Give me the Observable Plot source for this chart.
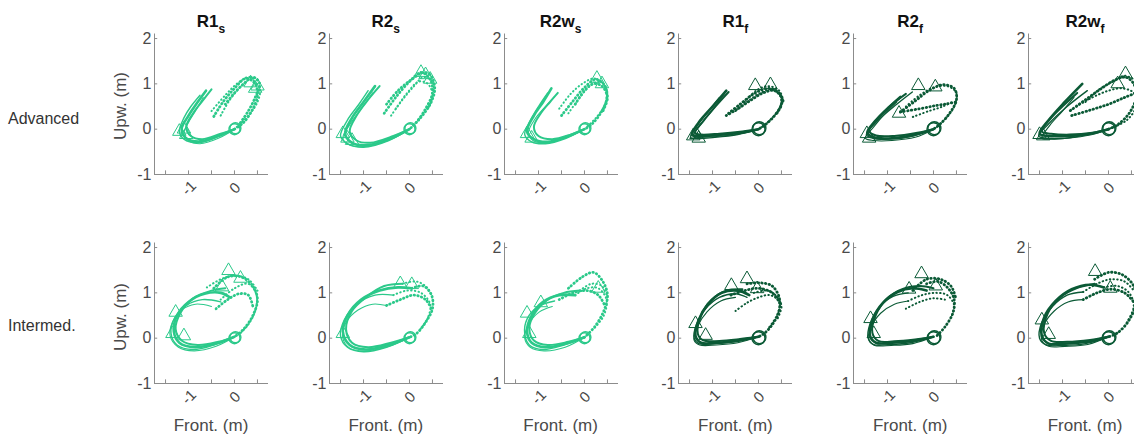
<!DOCTYPE html>
<html><head><meta charset="utf-8">
<script src="https://cdn.jsdelivr.net/npm/d3@7"></script>
<script src="https://cdn.jsdelivr.net/npm/@observablehq/plot@0.6"></script>
<style>
html,body{margin:0;padding:0;background:#fff;overflow:hidden;}
#root{position:relative;width:1134px;height:439px;overflow:hidden;font-family:"Liberation Sans",Arial,sans-serif;}
.pan{position:absolute;}
#ann{position:absolute;left:0;top:0;}
</style></head><body><div id="root"></div>
<script>
// ---------- data ----------
const columnTitles = ["R1","R2","R2w","R1","R2","R2w"];
const columnSubs = ["s","s","s","f","f","f"];
const rowLabels = ["Advanced","Intermed."];
const xTicks = [-1.5,-1,-0.5,0,0.5];
const xLabelTicks = [-1,0];
const xTickLabels = ["-1","0"];
const yTicks = [-1,0,1,2];
const yTickLabels = ["-1","0","1","2"];

// Advanced
const advR1sSolid = [
 [[0,0],[-0.35,-0.15],[-0.75,-0.27],[-1.05,-0.2],[-1.15,0.0],[-1.0,0.3],[-0.8,0.6],[-0.62,0.85]],
 [[0,0],[-0.4,-0.18],[-0.8,-0.3],[-1.1,-0.22],[-1.2,-0.05],[-1.1,0.25],[-0.95,0.5],[-0.75,0.75]],
 [[0,0],[-0.3,-0.1],[-0.7,-0.22],[-0.95,-0.15],[-1.05,0.05],[-0.9,0.35],[-0.7,0.62],[-0.5,0.88]],
 [[0,0],[-0.35,-0.2],[-0.75,-0.32],[-1.0,-0.25],[-1.1,-0.1],[-1.0,0.15],[-0.85,0.4],[-0.68,0.7]]];
const advR1sDotted = [
 [[-0.45,0.28],[-0.25,0.6],[0.0,0.9],[0.25,1.12],[0.45,1.0],[0.5,0.75],[0.4,0.45],[0.2,0.15],[0,0]],
 [[-0.3,0.3],[-0.1,0.65],[0.15,0.95],[0.35,1.1],[0.55,0.9],[0.5,0.6],[0.3,0.3],[0.05,0.05]],
 [[-0.2,0.55],[0.0,0.8],[0.2,1.0],[0.4,1.15],[0.55,1.0],[0.45,0.7],[0.3,0.4],[0.1,0.1]],
 [[-0.5,0.4],[-0.2,0.75],[0.05,1.0],[0.3,1.15],[0.45,1.1]]];
const advR1sTri = [[-1.2,-0.05],[-1.05,-0.12],[-1.1,0.0],[0.45,0.9],[0.5,0.95],[0.35,1.02]];

const advR2sSolid = [
 [[0,0],[-0.4,-0.2],[-0.9,-0.35],[-1.25,-0.3],[-1.4,-0.1],[-1.25,0.25],[-1.0,0.6],[-0.75,0.95]],
 [[0,0],[-0.45,-0.25],[-1.0,-0.4],[-1.35,-0.32],[-1.5,-0.15],[-1.35,0.2],[-1.1,0.55],[-0.9,0.85]],
 [[0,0],[-0.35,-0.15],[-0.85,-0.3],[-1.15,-0.25],[-1.3,-0.05],[-1.15,0.3],[-0.9,0.65],[-0.65,0.95]],
 [[0,0],[-0.4,-0.22],[-0.95,-0.38],[-1.3,-0.35],[-1.45,-0.2],[-1.3,0.1],[-1.05,0.45],[-0.8,0.8]]];
const advR2sDotted = [
 [[-0.55,0.35],[-0.3,0.7],[0.0,1.05],[0.25,1.25],[0.45,1.1],[0.5,0.8],[0.35,0.45],[0.15,0.15],[0,0]],
 [[-0.4,0.3],[-0.15,0.65],[0.1,0.95],[0.3,1.15],[0.5,1.05],[0.5,0.7],[0.3,0.35],[0.05,0.05]],
 [[-0.5,0.55],[-0.25,0.85],[0.05,1.1],[0.3,1.25],[0.45,1.2],[0.55,0.9],[0.45,0.55],[0.2,0.2]],
 [[-0.3,0.45],[-0.05,0.8],[0.2,1.05],[0.4,1.0],[0.5,0.75],[0.4,0.45]]];
const advR2sTri = [[-1.35,-0.2],[-1.25,-0.25],[-1.45,-0.1],[0.35,1.2],[0.45,1.1],[0.25,1.25]];

const advR2wsSolid = [
 [[0,0],[-0.35,-0.15],[-0.8,-0.28],[-1.1,-0.22],[-1.25,-0.05],[-1.1,0.3],[-0.9,0.6],[-0.72,0.9]],
 [[0,0],[-0.4,-0.2],[-0.85,-0.32],[-1.15,-0.28],[-1.3,-0.12],[-1.2,0.15],[-1.0,0.5],[-0.8,0.8]],
 [[0,0],[-0.3,-0.12],[-0.7,-0.22],[-1.0,-0.15],[-1.1,0.05],[-0.95,0.35],[-0.75,0.6],[-0.58,0.8]],
 [[0,0],[-0.38,-0.18],[-0.82,-0.3],[-1.12,-0.25],[-1.22,-0.08],[-1.08,0.22],[-0.85,0.5],[-0.65,0.72]]];
const advR2wsDotted = [
 [[-0.5,0.3],[-0.25,0.62],[0.0,0.92],[0.25,1.1],[0.45,0.95],[0.48,0.65],[0.35,0.35],[0.15,0.1],[0,0]],
 [[-0.35,0.35],[-0.1,0.7],[0.15,0.98],[0.35,1.05],[0.5,0.8],[0.42,0.5],[0.25,0.25],[0.05,0.05]],
 [[-0.2,0.55],[0.0,0.85],[0.2,1.0],[0.38,0.95],[0.5,0.7],[0.4,0.4]],
 [[-0.55,0.45],[-0.3,0.78],[-0.05,1.0],[0.2,1.12],[0.35,1.05]]];
const advR2wsTri = [[-1.25,-0.1],[-1.15,-0.2],[0.27,1.12],[0.38,1.0]];

const advR1fSolid = [
 [[0,0],[-0.4,-0.08],[-0.9,-0.13],[-1.3,-0.15],[-1.45,-0.12],[-1.3,0.15],[-1.0,0.5],[-0.7,0.85]],
 [[0,0],[-0.45,-0.12],[-0.95,-0.18],[-1.35,-0.2],[-1.42,-0.15],[-1.25,0.12],[-0.98,0.45],[-0.75,0.78]],
 [[0,0],[-0.35,-0.05],[-0.85,-0.1],[-1.25,-0.12],[-1.38,-0.08],[-1.2,0.18],[-0.92,0.52],[-0.65,0.82]],
 [[0,0],[-0.4,-0.1],[-0.9,-0.16],[-1.28,-0.18],[-1.48,-0.18],[-1.35,0.05],[-1.1,0.38],[-0.85,0.7]]];
const advR1fDotted = [
 [[-0.65,0.35],[-0.4,0.55],[-0.1,0.78],[0.2,0.9],[0.45,0.8],[0.5,0.55],[0.35,0.3],[0.15,0.1],[0,0]],
 [[-0.5,0.4],[-0.25,0.6],[0.05,0.8],[0.3,0.88],[0.5,0.7],[0.45,0.45],[0.25,0.2],[0.05,0.03]],
 [[-0.7,0.3],[-0.45,0.45],[-0.15,0.65],[0.1,0.8],[0.35,0.85],[0.52,0.65],[0.4,0.35]],
 [[-0.3,0.6],[-0.05,0.85],[0.2,0.95],[0.45,0.85],[0.55,0.6]]];
const advR1fTri = [[-0.07,0.96],[0.26,0.98],[-1.42,-0.15],[-1.3,-0.2],[-1.35,-0.12]];

const advR2fSolid = [
 [[0,0],[-0.4,-0.12],[-0.9,-0.2],[-1.3,-0.18],[-1.44,-0.08],[-1.25,0.2],[-0.95,0.5],[-0.72,0.71]],
 [[0,0],[-0.45,-0.15],[-0.95,-0.22],[-1.32,-0.2],[-1.46,-0.12],[-1.2,0.2],[-0.8,0.55],[-0.46,0.82]],
 [[0,0],[-0.35,-0.08],[-0.85,-0.15],[-1.25,-0.14],[-1.4,-0.04],[-1.2,0.25],[-0.9,0.55],[-0.6,0.78]],
 [[0,0],[-0.4,-0.18],[-0.9,-0.25],[-1.3,-0.25],[-1.48,-0.2],[-1.3,0.05],[-1.05,0.35],[-0.8,0.6]]];
const advR2fDotted = [
 [[-0.72,0.38],[-0.4,0.62],[-0.1,0.85],[0.2,0.98],[0.45,0.9],[0.5,0.65],[0.35,0.35],[0.15,0.12],[0,0]],
 [[-0.6,0.5],[-0.3,0.75],[0.0,0.92],[0.3,0.95],[0.5,0.8],[0.45,0.5],[0.25,0.22],[0.05,0.03]],
 [[-0.72,0.38],[-0.3,0.45],[0.05,0.52],[0.3,0.56],[0.48,0.6]],
 [[-0.45,0.27],[-0.1,0.4],[0.2,0.5],[0.45,0.62]]];
const advR2fTri = [[-0.33,0.96],[0.04,0.93],[-1.45,-0.1],[-1.4,-0.2],[-0.75,0.35]];

const advR2wfSolid = [
 [[0,0],[-0.4,-0.1],[-0.9,-0.15],[-1.3,-0.15],[-1.5,-0.1],[-1.3,0.2],[-0.95,0.6],[-0.57,1.0]],
 [[0,0],[-0.45,-0.12],[-0.95,-0.2],[-1.35,-0.2],[-1.52,-0.15],[-1.3,0.12],[-0.9,0.5],[-0.46,0.85]],
 [[0,0],[-0.35,-0.08],[-0.85,-0.12],[-1.25,-0.1],[-1.45,-0.05],[-1.25,0.25],[-0.95,0.55],[-0.68,0.8]],
 [[0,0],[-0.4,-0.13],[-0.9,-0.2],[-1.3,-0.22],[-1.45,-0.2],[-1.28,0.08],[-1.0,0.4],[-0.75,0.7]]];
const advR2wfDotted = [
 [[-0.83,0.41],[-0.5,0.65],[-0.15,0.9],[0.11,1.07],[0.37,1.15],[0.55,1.0],[0.6,0.7],[0.45,0.35],[0.2,0.1],[0,0]],
 [[-0.7,0.5],[-0.35,0.7],[0.0,0.85],[0.3,0.9],[0.55,0.8],[0.6,0.5],[0.4,0.2],[0.05,0.02]],
 [[-0.8,0.3],[-0.4,0.42],[0.0,0.55],[0.35,0.7],[0.6,0.8]],
 [[-0.5,0.6],[-0.2,0.88],[0.1,1.05],[0.35,1.18],[0.55,1.1]]];
const advR2wfTri = [[0.37,1.22],[-1.5,-0.12],[-1.42,-0.15],[0.2,1.0]];

// Intermediate
const intR1sSolid = [
 [[0,0.03],[-0.4,-0.12],[-0.85,-0.2],[-1.2,-0.1],[-1.32,0.15],[-1.25,0.5],[-1.0,0.8],[-0.65,0.98],[-0.3,1.0],[-0.1,0.9]],
 [[0,0.03],[-0.45,-0.15],[-0.9,-0.25],[-1.25,-0.15],[-1.38,0.1],[-1.3,0.45],[-1.05,0.72],[-0.7,0.85],[-0.3,0.8]],
 [[0,0.03],[-0.35,-0.08],[-0.8,-0.15],[-1.15,-0.05],[-1.28,0.2],[-1.18,0.55],[-0.9,0.88],[-0.5,1.05],[-0.2,1.1]],
 [[0,0.03],[-0.4,-0.18],[-0.88,-0.28],[-1.22,-0.2],[-1.4,0.05],[-1.35,0.35],[-1.15,0.62],[-0.85,0.75],[-0.5,0.7]]];
const intR1sDotted = [
 [[-0.45,1.1],[-0.15,1.35],[0.15,1.35],[0.4,1.15],[0.5,0.85],[0.4,0.5],[0.2,0.2],[0,0.03]],
 [[-0.3,0.85],[0.0,1.1],[0.3,1.2],[0.48,0.95],[0.45,0.6],[0.3,0.3],[0.1,0.08]],
 [[-0.4,0.65],[-0.15,0.85],[0.1,0.98],[0.3,0.95],[0.4,0.7]],
 [[-0.6,1.12],[-0.3,1.3],[0.0,1.38],[0.3,1.3],[0.5,1.05]]];
const intR1sTri = [[-1.35,0.1],[-1.28,0.57],[-0.13,1.49],[0.13,1.32],[-0.27,1.13],[-1.1,0.05]];

const intR2sSolid = [
 [[0,0.02],[-0.45,-0.15],[-0.95,-0.25],[-1.3,-0.15],[-1.45,0.15],[-1.35,0.5],[-1.05,0.85],[-0.65,1.05],[-0.25,1.12],[0.05,1.1]],
 [[0,0.02],[-0.5,-0.2],[-1.0,-0.3],[-1.35,-0.2],[-1.5,0.05],[-1.42,0.4],[-1.15,0.75],[-0.75,0.95],[-0.35,0.95]],
 [[0,0.02],[-0.4,-0.1],[-0.9,-0.2],[-1.25,-0.1],[-1.38,0.2],[-1.25,0.6],[-0.95,0.9],[-0.55,1.15],[-0.15,1.2]],
 [[0,0.02],[-0.45,-0.18],[-0.95,-0.28],[-1.3,-0.22],[-1.45,0.0],[-1.38,0.35],[-1.12,0.62],[-0.8,0.75],[-0.5,0.72]]];
const intR2sDotted = [
 [[0.05,1.1],[0.3,1.15],[0.48,0.95],[0.5,0.65],[0.35,0.35],[0.15,0.1],[0,0.02]],
 [[-0.35,0.95],[-0.05,1.05],[0.25,1.0],[0.45,0.75],[0.4,0.45],[0.2,0.15]],
 [[-0.5,0.72],[-0.2,0.85],[0.1,0.95],[0.35,0.85],[0.5,0.6]],
 [[-0.15,1.2],[0.15,1.25],[0.4,1.1],[0.52,0.8]]];
const intR2sTri = [[0.05,1.18],[-0.2,1.2],[-1.45,0.1]];

const intR2wsSolid = [
 [[0,0.02],[-0.4,-0.12],[-0.85,-0.2],[-1.15,-0.1],[-1.25,0.15],[-1.15,0.5],[-0.9,0.8],[-0.55,0.95],[-0.2,0.95]],
 [[0,0.02],[-0.45,-0.15],[-0.9,-0.25],[-1.2,-0.15],[-1.3,0.1],[-1.25,0.42],[-1.0,0.7],[-0.65,0.82]],
 [[0,0.02],[-0.35,-0.08],[-0.8,-0.15],[-1.1,-0.05],[-1.2,0.22],[-1.08,0.55],[-0.8,0.85],[-0.45,1.0],[-0.1,1.05]],
 [[0,0.02],[-0.42,-0.2],[-0.88,-0.28],[-1.18,-0.2],[-1.3,0.0],[-1.22,0.3],[-0.98,0.58],[-0.7,0.7]]];
const intR2wsDotted = [
 [[-0.35,1.1],[-0.05,1.35],[0.2,1.45],[0.4,1.25],[0.5,0.95],[0.42,0.6],[0.22,0.25],[0,0.02]],
 [[-0.2,0.95],[0.05,1.1],[0.3,1.1],[0.48,0.85],[0.42,0.5],[0.2,0.2]],
 [[-0.55,0.85],[-0.25,1.0],[0.05,1.05],[0.3,0.95],[0.45,0.7]],
 [[-0.1,1.05],[0.15,1.2],[0.38,1.15],[0.5,0.9]]];
const intR2wsTri = [[-1.25,0.55],[-1.2,0.1],[-0.95,0.78],[0.3,1.1]];

const intR1fSolid = [
 [[0,0.03],[-0.45,-0.05],[-0.9,-0.1],[-1.25,-0.1],[-1.37,0.05],[-1.3,0.4],[-1.1,0.75],[-0.8,1.0],[-0.45,1.05],[-0.2,0.95]],
 [[0,0.03],[-0.5,-0.08],[-0.95,-0.12],[-1.3,-0.12],[-1.4,0.0],[-1.35,0.3],[-1.15,0.65],[-0.85,0.9],[-0.5,0.98],[-0.25,0.9]],
 [[0,0.03],[-0.4,-0.02],[-0.85,-0.06],[-1.2,-0.05],[-1.32,0.1],[-1.25,0.5],[-1.02,0.85],[-0.7,1.05],[-0.35,1.08]],
 [[0,0.03],[-0.45,-0.1],[-0.92,-0.15],[-1.28,-0.15],[-1.4,-0.05],[-1.33,0.25],[-1.12,0.58],[-0.82,0.82],[-0.5,0.9]]];
const intR1fDotted = [
 [[-0.25,1.2],[0.05,1.22],[0.3,1.15],[0.45,0.9],[0.45,0.6],[0.3,0.3],[0.12,0.1],[0,0.03]],
 [[-0.5,0.6],[-0.25,0.78],[0.0,0.9],[0.25,0.95],[0.45,0.8],[0.4,0.5],[0.2,0.2]],
 [[-0.6,0.95],[-0.3,1.05],[0.0,1.1],[0.3,1.0],[0.48,0.75]],
 [[-0.1,1.0],[0.2,1.05],[0.4,0.92],[0.5,0.7],[0.4,0.4]]];
const intR1fTri = [[-0.25,1.31],[-0.59,1.16],[-0.03,1.09],[-1.37,0.32],[-1.15,0.06]];

const intR2fSolid = [
 [[0,0.03],[-0.45,-0.06],[-0.9,-0.1],[-1.25,-0.1],[-1.38,0.05],[-1.32,0.42],[-1.1,0.78],[-0.78,1.02],[-0.45,1.1],[-0.15,1.05]],
 [[0,0.03],[-0.5,-0.1],[-0.95,-0.14],[-1.3,-0.14],[-1.42,0.0],[-1.38,0.32],[-1.18,0.68],[-0.88,0.92],[-0.55,1.0]],
 [[0,0.03],[-0.4,-0.03],[-0.85,-0.07],[-1.2,-0.06],[-1.33,0.12],[-1.25,0.52],[-1.0,0.88],[-0.68,1.08],[-0.3,1.15],[0.0,1.1]],
 [[0,0.03],[-0.45,-0.12],[-0.92,-0.16],[-1.28,-0.16],[-1.4,-0.05],[-1.35,0.25],[-1.15,0.55],[-0.85,0.75],[-0.55,0.82]]];
const intR2fDotted = [
 [[-0.15,1.2],[0.1,1.25],[0.32,1.1],[0.45,0.85],[0.42,0.55],[0.25,0.25],[0.08,0.06]],
 [[-0.55,0.82],[-0.25,0.95],[0.05,1.0],[0.3,0.95],[0.45,0.72],[0.38,0.45]],
 [[-0.45,1.05],[-0.15,1.3],[0.15,1.3],[0.38,1.15],[0.48,0.9]],
 [[-0.6,0.65],[-0.3,0.8],[0.0,0.88],[0.25,0.85]]];
const intR2fTri = [[-0.26,1.42],[-0.53,1.08],[-1.37,0.43],[-1.3,0.1],[0.05,1.15]];

const intR2wfSolid = [
 [[0,0.03],[-0.45,-0.08],[-0.95,-0.12],[-1.3,-0.12],[-1.45,0.05],[-1.4,0.45],[-1.15,0.82],[-0.8,1.08],[-0.4,1.18],[-0.1,1.12]],
 [[0,0.03],[-0.5,-0.12],[-1.0,-0.16],[-1.35,-0.15],[-1.5,0.0],[-1.45,0.35],[-1.22,0.7],[-0.9,0.95],[-0.55,1.02]],
 [[0,0.03],[-0.4,-0.04],[-0.9,-0.08],[-1.25,-0.06],[-1.4,0.12],[-1.32,0.55],[-1.05,0.9],[-0.7,1.1],[-0.3,1.2]],
 [[0,0.03],[-0.45,-0.14],[-0.95,-0.18],[-1.3,-0.18],[-1.45,-0.05],[-1.4,0.3],[-1.18,0.6],[-0.88,0.8],[-0.55,0.85]]];
const intR2wfDotted = [
 [[-0.3,1.3],[0.0,1.45],[0.3,1.4],[0.55,1.15],[0.6,0.8],[0.45,0.4],[0.2,0.12],[0,0.03]],
 [[-0.1,1.12],[0.2,1.15],[0.45,1.0],[0.55,0.7],[0.4,0.35]],
 [[-0.55,0.85],[-0.25,1.0],[0.05,1.08],[0.35,1.0],[0.55,0.8]],
 [[-0.55,1.02],[-0.25,1.2],[0.05,1.3],[0.35,1.25],[0.55,1.05]]];
const intR2wfTri = [[-0.29,1.47],[0.04,1.1],[-1.45,0.4],[-1.3,0.08]];

const startPoints = [[0,0],[0.02,0.02]];

// ---------- layout / style ----------
const LIGHT = "#2bc98a", DARK = "#0b5a36";
const colColors = [LIGHT, LIGHT, LIGHT, DARK, DARK, DARK];
const X_DOMAIN = [-1.74, 0.74], Y_DOMAIN = [-1, 2.1];
const ML = 30, MR = 12, MT = 33.5, MB = 30, PW = 114, PH = 140.5;
const AXIS_X0 = 154, COL_STEP = 174.8, ROW_STEP = 209;
const SOLID_W = [2.6, 1.4, 2.0, 1.1];
const AX = "#8c8c8c", TXT = "#4a4a4a";

const panels = [
 {row:0,col:0,solid:advR1sSolid,dotted:advR1sDotted,tri:advR1sTri},
 {row:0,col:1,solid:advR2sSolid,dotted:advR2sDotted,tri:advR2sTri},
 {row:0,col:2,solid:advR2wsSolid,dotted:advR2wsDotted,tri:advR2wsTri},
 {row:0,col:3,solid:advR1fSolid,dotted:advR1fDotted,tri:advR1fTri},
 {row:0,col:4,solid:advR2fSolid,dotted:advR2fDotted,tri:advR2fTri},
 {row:0,col:5,solid:advR2wfSolid,dotted:advR2wfDotted,tri:advR2wfTri},
 {row:1,col:0,solid:intR1sSolid,dotted:intR1sDotted,tri:intR1sTri},
 {row:1,col:1,solid:intR2sSolid,dotted:intR2sDotted,tri:intR2sTri},
 {row:1,col:2,solid:intR2wsSolid,dotted:intR2wsDotted,tri:intR2wsTri},
 {row:1,col:3,solid:intR1fSolid,dotted:intR1fDotted,tri:intR1fTri},
 {row:1,col:4,solid:intR2fSolid,dotted:intR2fDotted,tri:intR2fTri},
 {row:1,col:5,solid:intR2wfSolid,dotted:intR2wfDotted,tri:intR2wfTri}
];

const root = document.getElementById("root");
const px = d => d[0], py = d => d[1];

for (const p of panels) {
  const color = colColors[p.col];
  const marks = [
    Plot.ruleX([X_DOMAIN[0]], {stroke: AX}),
    Plot.ruleY([Y_DOMAIN[0]], {stroke: AX}),
    Plot.ruleX(xTicks, {x: d => d, y1: Y_DOMAIN[0], y2: Y_DOMAIN[0] + 0.08, stroke: AX}),
    Plot.ruleY(yTicks, {y: d => d, x1: X_DOMAIN[0], x2: X_DOMAIN[0] + 0.07, stroke: AX}),
    Plot.text(yTicks, {y: d => d, frameAnchor: "left", text: (d, i) => yTickLabels[i], textAnchor: "end", dx: -3, fill: TXT, fontSize: 16}),
    Plot.text(xLabelTicks, {x: d => d, frameAnchor: "bottom", text: (d, i) => xTickLabels[i], rotate: -45, dx: 4, dy: 17, fill: TXT, fontSize: 15})
  ];
  p.solid.forEach((tr, i) => marks.push(Plot.line(tr, {x: px, y: py, curve: "catmull-rom", stroke: color, strokeWidth: SOLID_W[i % 4]})));
  p.dotted.forEach((tr, i) => marks.push(Plot.line(tr, {x: px, y: py, curve: "catmull-rom", stroke: color, strokeWidth: i % 2 ? 2 : 2.8, strokeDasharray: "0.5,3.2", strokeLinecap: "round"})));
  marks.push(Plot.dot(p.tri, {x: px, y: py, symbol: "triangle", r: 5, stroke: color, fill: "none", strokeWidth: 1}));
  marks.push(Plot.dot(startPoints, {x: px, y: py, r: p.col > 2 ? 6.5 : 5.5, stroke: color, fill: "none", strokeWidth: 1.4}));
  const svg = Plot.plot({
    width: ML + PW + MR, height: MT + PH + MB,
    marginLeft: ML, marginRight: MR, marginTop: MT, marginBottom: MB,
    x: {domain: X_DOMAIN, axis: null}, y: {domain: Y_DOMAIN, axis: null},
    style: {fontFamily: '"Liberation Sans", Arial, sans-serif', background: "transparent", overflow: "visible"},
    marks
  });
  svg.classList.add("pan");
  svg.style.left = (AXIS_X0 + p.col * COL_STEP - ML) + "px";
  svg.style.top = (p.row * ROW_STEP) + "px";
  root.appendChild(svg);
}

// ---------- annotations ----------
const ann = d3.select(root).append("svg").attr("id", "ann").attr("width", 1134).attr("height", 439)
  .style("font-family", '"Liberation Sans", Arial, sans-serif').style("pointer-events", "none");
columnTitles.forEach((t, c) => {
  const cx = AXIS_X0 + c * COL_STEP + PW / 2;
  const tx = ann.append("text").attr("x", cx).attr("y", 27).attr("text-anchor", "middle")
    .attr("font-weight", "bold").attr("font-size", 17).attr("fill", "#111");
  tx.append("tspan").text(t);
  tx.append("tspan").attr("dy", 6).attr("font-size", 12).text(columnSubs[c]);
  ann.append("text").attr("x", cx).attr("y", 431).attr("text-anchor", "middle")
    .attr("font-size", 17).attr("fill", TXT).text("Front. (m)");
});
rowLabels.forEach((t, r) => {
  ann.append("text").attr("x", 8).attr("y", 124 + r * 207).attr("font-size", 16).attr("fill", "#333").text(t);
  ann.append("text").attr("transform", `translate(126,${106 + r * 211}) rotate(-90)`)
    .attr("text-anchor", "middle").attr("font-size", 17).attr("fill", TXT).text("Upw. (m)");
});
</script></body></html>
